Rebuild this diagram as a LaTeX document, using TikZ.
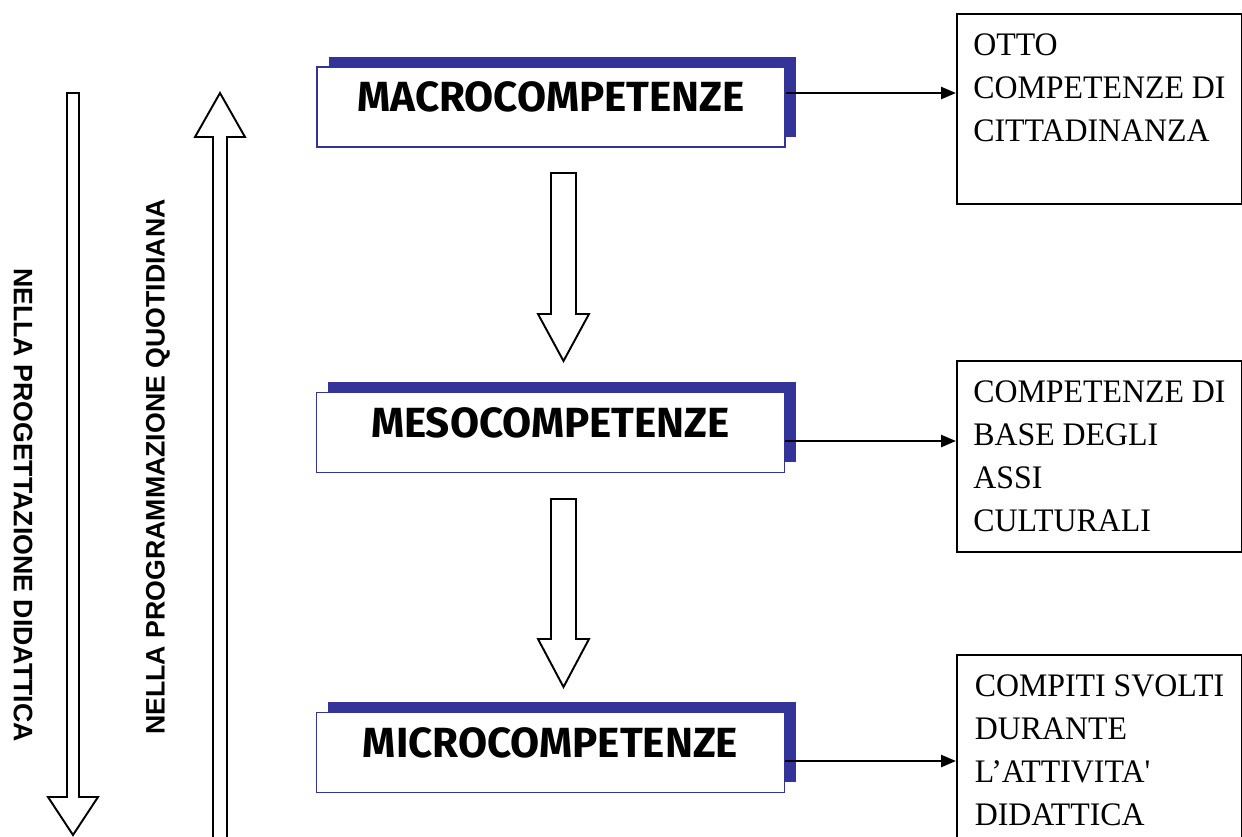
\documentclass[tikz,border=0pt]{standalone}
\usepackage{fontspec}
\setmainfont{Liberation Serif}
\newfontfamily\notefont[FakeStretch=0.97]{Liberation Serif}
\newfontfamily\levelfont{Fira Sans}
\newfontfamily\sidefont{Liberation Sans}
\usetikzlibrary{arrows.meta,shadows}
\definecolor{levelblue}{HTML}{333399}

\begin{document}
\begin{tikzpicture}[x=0.02cm, y=-0.02cm,
  level/.style={draw=levelblue, line width=0.8pt, fill=white,
    minimum width=9.36cm, minimum height=1.6cm, inner sep=0pt,
    text height=0.6cm, text depth=0.42cm,
    font=\levelfont\bfseries\fontsize{24}{28}\selectfont,
    drop shadow={shadow xshift=0.23cm, shadow yshift=0.21cm, fill=levelblue, opacity=1}},
  note/.style={draw, line width=1.1pt, anchor=north west, align=left,
    minimum width=5.7cm, inner xsep=0.3cm, inner ysep=0.4cm,
    font=\notefont\fontsize{18.7}{24.4}\selectfont},
  link/.style={line width=1.4pt, -{Triangle[length=0.3cm, width=0.24cm]}},
  hollow/.style={draw, line width=1.1pt, fill=white},
  side/.style={font=\sidefont\bfseries\fontsize{15.2}{18}\selectfont}]

  \useasboundingbox (0,0) rectangle (1242,836);

  % Side labels and long arrows
  \node[side, rotate=-90] (design) at (23,505) {NELLA PROGETTAZIONE DIDATTICA};
  \node[side, rotate=90] (daily) at (158,467) {NELLA PROGRAMMAZIONE QUOTIDIANA};
  \draw[hollow] (67,93) -- (79,93) -- (79,797) -- (98,797) -- (73,835) -- (48,797) -- (67,797) -- cycle;
  \draw[hollow] (213,845) -- (213,137) -- (195,137) -- (220,93) -- (245,137) -- (227,137) -- (227,845);

  % Competence levels
  \node[level] (macro) at (551,107) {MACROCOMPETENZE};
  \node[level] (meso) at (550.5,432.5) {MESOCOMPETENZE};
  \node[level] (micro) at (550.5,752.5) {MICROCOMPETENZE};

  % Arrows between levels
  \foreach \top/\base/\tip in {173/314/361, 499/639/687}
    \draw[hollow] (551,\top) -- (576,\top) -- (576,\base) -- (589,\base) -- (563.5,\tip) -- (538,\base) -- (551,\base) -- cycle;

  % Notes on the right
  \node[note] (otto) at (956,13) {OTTO\\COMPETENZE DI\\CITTADINANZA\\\mbox{}};
  \node[note] (assi) at (956,360) {COMPETENZE DI\\BASE DEGLI\\ASSI\\CULTURALI};
  \node[note] (compiti) at (956,654) {COMPITI SVOLTI\\DURANTE\\L’ATTIVITA\textquotesingle\\DIDATTICA};

  \draw[link] ([yshift=0.28cm]macro.east) -- ([yshift=0.28cm]macro.east -| otto.west);
  \draw[link] ([yshift=-0.17cm]meso.east) -- ([yshift=-0.17cm]meso.east -| assi.west);
  \draw[link] ([yshift=-0.17cm]micro.east) -- ([yshift=-0.17cm]micro.east -| compiti.west);

\end{tikzpicture}
\end{document}
